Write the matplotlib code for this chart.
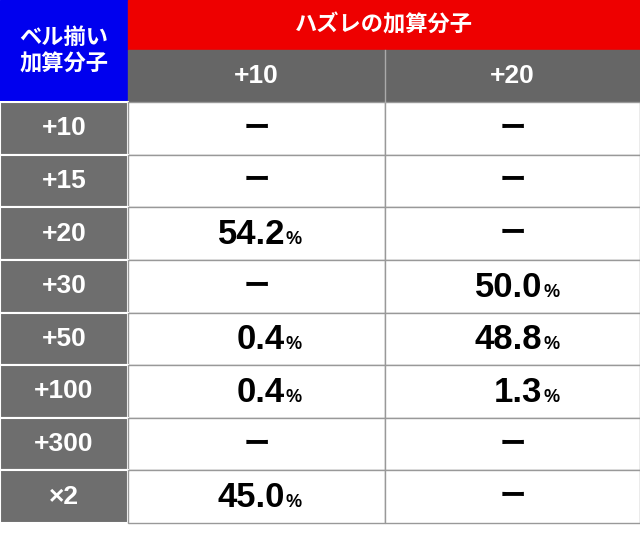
import matplotlib
matplotlib.use("Agg")
import matplotlib.pyplot as plt
from matplotlib.patches import Rectangle

plt.rcParams["font.family"] = ["Noto Sans CJK JP", "DejaVu Sans"]

corner_label = "ベル揃い\n加算分子"
group_label = "ハズレの加算分子"
col_labels = ["+10", "+20"]
row_labels = ["+10", "+15", "+20", "+30", "+50", "+100", "+300", "×2"]
col_10 = [None, None, "54.2", None, "0.4", "0.4", None, "45.0"]
col_20 = [None, None, None, "50.0", "48.8", "1.3", None, None]

W, H = 640, 535
fig = plt.figure(figsize=(6.4, 5.35), dpi=100)
ax = fig.add_axes([0, 0, 1, 1])
ax.set_xlim(0, W)
ax.set_ylim(H, 0)
ax.axis("off")

left_w = 128
col_x = [128, 385, 640]
h1, h2 = 50, 102
row_h = (523 - h2) / len(row_labels)

# header blocks
ax.add_patch(Rectangle((0, 0), left_w, h2, color="#0000ee"))
ax.add_patch(Rectangle((left_w, 0), W - left_w, h1, color="#ee0000"))
ax.add_patch(Rectangle((left_w, h1), W - left_w, h2 - h1, color="#666666"))
ax.text(left_w / 2, h2 / 2, corner_label, color="white", ha="center", va="center",
        fontsize=16, fontweight="bold", linespacing=1.2)
ax.text((left_w + W) / 2, h1 / 2, group_label, color="white", ha="center", va="center",
        fontsize=16, fontweight="bold")
for i, lab in enumerate(col_labels):
    ax.text((col_x[i] + col_x[i + 1]) / 2, (h1 + h2) / 2, lab, color="white",
            ha="center", va="center", fontsize=19, fontweight="bold",
            family="Liberation Sans")
ax.plot([col_x[1], col_x[1]], [h1, h2], color="#aaaaaa", lw=1)

# body
for r, lab in enumerate(row_labels):
    y0 = h2 + r * row_h
    ax.add_patch(Rectangle((0, y0), left_w, row_h, facecolor="#6e6e6e",
                           edgecolor="white", lw=1.5))
    ax.text(left_w / 2, y0 + row_h / 2, lab, color="white", ha="center", va="center",
            fontsize=19, fontweight="bold", family="Liberation Sans")
    for c, vals in enumerate([col_10, col_20]):
        x0 = col_x[c]
        ax.add_patch(Rectangle((x0, y0), col_x[c + 1] - x0, row_h, facecolor="white",
                               edgecolor="#999999", lw=1))
        cy = y0 + row_h / 2
        v = vals[r]
        if v is None:
            ax.text((x0 + col_x[c + 1]) / 2, cy, "ー", ha="center", va="center",
                    fontsize=19, fontweight="bold", color="black")
        else:
            xr = x0 + 157
            ax.text(xr, cy + 1, v, ha="right", va="center", fontsize=25,
                    fontweight="bold", color="black", family="Liberation Sans")
            ax.text(xr + 1, cy + 6, "%", ha="left", va="center", fontsize=13,
                    fontweight="bold", color="black", family="Liberation Sans")

fig.savefig("out.png", dpi=100, facecolor="white")
